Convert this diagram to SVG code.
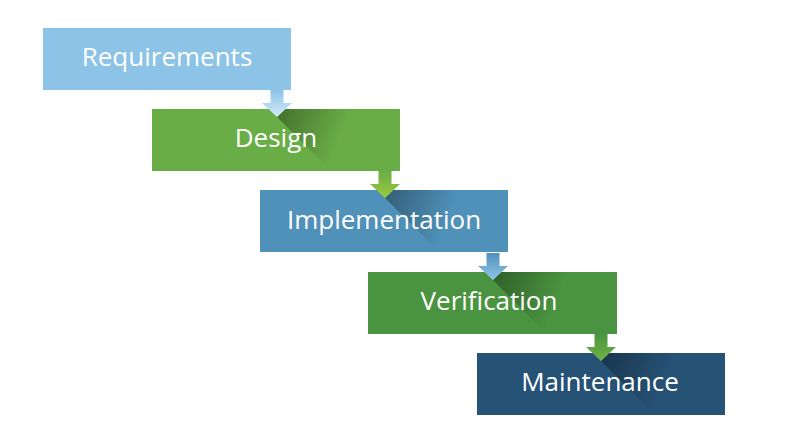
<svg xmlns="http://www.w3.org/2000/svg" width="811" height="444" viewBox="0 0 811 444">
<defs>
<style>
.lbl{font-family:"Open Sans",Lato,"Liberation Sans",sans-serif;font-size:26px;fill:#ffffff;text-anchor:middle;font-variant-ligatures:none}
</style>
<linearGradient id="sh" gradientUnits="userSpaceOnUse" x1="0" y1="0" x2="62" y2="24">
<stop offset="0" stop-color="#000" stop-opacity="0.34"/>
<stop offset="1" stop-color="#000" stop-opacity="0"/>
</linearGradient>
<linearGradient id="a1" x1="0" y1="0" x2="0" y2="1"><stop offset="0" stop-color="#8cc3e6"/><stop offset="1" stop-color="#d3eaf8"/></linearGradient>
<linearGradient id="a2" x1="0" y1="0" x2="0" y2="1"><stop offset="0" stop-color="#69ad46"/><stop offset="1" stop-color="#9acb3c"/></linearGradient>
<linearGradient id="a3" x1="0" y1="0" x2="0" y2="1"><stop offset="0" stop-color="#4f91b9"/><stop offset="1" stop-color="#8fc6e8"/></linearGradient>
<linearGradient id="a4" x1="0" y1="0" x2="0" y2="1"><stop offset="0" stop-color="#4a9340"/><stop offset="1" stop-color="#6fb445"/></linearGradient>
<path id="arr" d="M-6.5,-27 H6.5 V-14 H15 L0,0 L-15,-14 H-6.5 Z"/>
<polygon id="shp" points="0,0 8,-8 110,-8 110,54 54,54"/>
</defs>
<rect width="811" height="444" fill="#ffffff"/>
<g id="requirements">
<rect x="43" y="28" width="248" height="62" fill="#8cc3e6"/>
<text class="lbl" x="167" y="66">Requirements</text>
</g>
<g id="design">
<rect x="152" y="109" width="248" height="62" fill="#69ad46"/>
<use href="#shp" transform="translate(277,117)" fill="url(#sh)"/>
<text class="lbl" x="276" y="147">Design</text>
</g>
<g id="implementation">
<rect x="260" y="190" width="248" height="62" fill="#4f91b9"/>
<use href="#shp" transform="translate(385,198)" fill="url(#sh)"/>
<text class="lbl" x="384" y="229">Implementation</text>
</g>
<g id="verification">
<rect x="368" y="272" width="249" height="62" fill="#4a9340"/>
<use href="#shp" transform="translate(493,280)" fill="url(#sh)"/>
<text class="lbl" x="489" y="310">Verification</text>
</g>
<g id="maintenance">
<rect x="477" y="353" width="248" height="62" fill="#265275"/>
<use href="#shp" transform="translate(601,361)" fill="url(#sh)"/>
<text class="lbl" x="600" y="391">Maintenance</text>
</g>
<g id="connectors">
<use href="#arr" transform="translate(277,117)" fill="url(#a1)"/>
<use href="#arr" transform="translate(385,198)" fill="url(#a2)"/>
<use href="#arr" transform="translate(493,280)" fill="url(#a3)"/>
<use href="#arr" transform="translate(601,361)" fill="url(#a4)"/>
</g>
</svg>
